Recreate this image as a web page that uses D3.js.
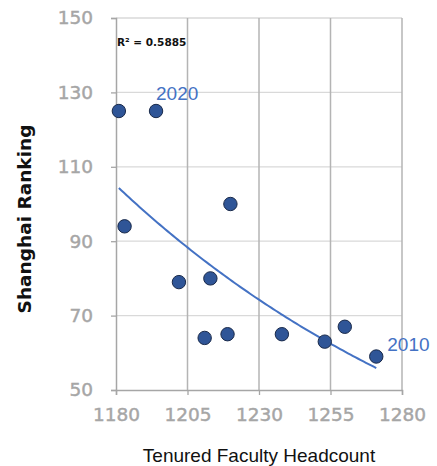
<!DOCTYPE html>
<html>
<head>
<meta charset="utf-8">
<script src="https://cdn.jsdelivr.net/npm/d3@7"></script>
<style>
  html, body { margin: 0; padding: 0; background: #fff; }
  svg { display: block; }
</style>
</head>
<body>
<svg id="chart" width="437" height="466"></svg>
<script>
// Tenured faculty headcount vs. Shanghai ranking, one point per year
const headcount = [1181, 1194, 1183, 1202, 1213, 1211, 1219, 1238, 1253, 1260, 1271, 1220];
const ranking   = [125, 125, 94, 79, 80, 64, 65, 65, 63, 67, 59, 100];
const yearLabels = [{ year: "2020", index: 1 }, { year: "2010", index: 10 }];
const xTicks = [1180, 1205, 1230, 1255, 1280];
const yTicks = [50, 70, 90, 110, 130, 150];
const rSquaredText = "R² = 0.5885";

(function () {
const svg = d3.select("#chart");
const plotLeft = 116, plotRight = 402, plotTop = 18, plotBottom = 390;

const x = d3.scaleLinear().domain([1180, 1280]).range([plotLeft, plotRight]);
const y = d3.scaleLinear().domain([50, 150]).range([plotBottom, plotTop]);

const tickFont = "'DejaVu Sans', sans-serif";
const tickGrey = "#a6a6a6";

// horizontal gridlines
svg.append("g").selectAll("line").data(yTicks.slice(1)).join("line")
  .attr("x1", plotLeft).attr("x2", plotRight)
  .attr("y1", d => y(d)).attr("y2", d => y(d))
  .attr("stroke", "#d9d9d9").attr("stroke-width", 1.3);

// vertical gridlines
svg.append("g").selectAll("line").data(xTicks.slice(1)).join("line")
  .attr("x1", d => x(d)).attr("x2", d => x(d))
  .attr("y1", plotTop).attr("y2", plotBottom)
  .attr("stroke", "#b4b4b4").attr("stroke-width", 1.5);

// y axis
const yAxis = svg.append("g").attr("transform", `translate(${plotLeft},0)`)
  .call(d3.axisLeft(y).tickValues(yTicks).tickSize(5).tickPadding(18));
yAxis.select(".domain").attr("stroke", tickGrey).attr("stroke-width", 1.5);
yAxis.selectAll(".tick line").attr("stroke", tickGrey).attr("stroke-width", 1.3);
yAxis.selectAll("text")
  .attr("fill", tickGrey).attr("stroke", tickGrey).attr("stroke-width", 0.45)
  .attr("font-family", tickFont).attr("font-size", 18.5);

// x axis
const xAxis = svg.append("g").attr("transform", `translate(0,${plotBottom})`)
  .call(d3.axisBottom(x).tickValues(xTicks).tickSize(5).tickPadding(13).tickFormat(d3.format("d")));
xAxis.select(".domain").attr("stroke", tickGrey).attr("stroke-width", 1.5);
xAxis.selectAll(".tick line").attr("stroke", tickGrey).attr("stroke-width", 1.3);
xAxis.selectAll("text")
  .attr("fill", tickGrey).attr("stroke", tickGrey).attr("stroke-width", 0.45)
  .attr("font-family", tickFont).attr("font-size", 18.5);

// exponential trendline fitted on ln(ranking)
const n = headcount.length;
const lx = headcount, ly = ranking.map(Math.log);
const mx = d3.mean(lx), my = d3.mean(ly);
let sxy = 0, sxx = 0;
for (let i = 0; i < n; i++) { sxy += (lx[i] - mx) * (ly[i] - my); sxx += (lx[i] - mx) ** 2; }
const b = sxy / sxx, a = Math.exp(my - b * mx);
const [xmin, xmax] = d3.extent(headcount);
const trend = d3.range(0, 101).map(i => {
  const xv = xmin + (xmax - xmin) * i / 100;
  return [xv, a * Math.exp(b * xv)];
});
svg.append("path").datum(trend)
  .attr("fill", "none").attr("stroke", "#4472c4").attr("stroke-width", 2)
  .attr("d", d3.line().x(d => x(d[0])).y(d => y(d[1])));

// points
svg.append("g").selectAll("circle").data(d3.range(n)).join("circle")
  .attr("cx", i => x(headcount[i])).attr("cy", i => y(ranking[i]))
  .attr("r", 6.7)
  .attr("fill", "#2f5597").attr("stroke", "#1a2a4a").attr("stroke-width", 1);

// year labels: the first sits above its point, the last to the upper right
const labelOffset = [[0, -11], [11, -6]];
svg.append("g").selectAll("text").data(yearLabels).join("text")
  .attr("x", (d, i) => x(headcount[d.index]) + labelOffset[i][0])
  .attr("y", (d, i) => y(ranking[d.index]) + labelOffset[i][1])
  .attr("font-family", "'Liberation Sans', Arial, sans-serif")
  .attr("font-size", 19).attr("fill", "#4472c4")
  .text(d => d.year);

// R² annotation
svg.append("text").attr("x", plotLeft + 1).attr("y", 46)
  .attr("font-family", tickFont).attr("font-size", 10.5).attr("font-weight", 600)
  .attr("fill", "#111").text(rSquaredText);

// axis titles
svg.append("text")
  .attr("transform", `translate(31,219) rotate(-90)`)
  .attr("text-anchor", "middle")
  .attr("font-family", tickFont).attr("font-size", 18.5).attr("font-weight", "bold")
  .attr("fill", "#111").text("Shanghai Ranking");

svg.append("text").attr("x", 259).attr("y", 461.5)
  .attr("text-anchor", "middle")
  .attr("font-family", "'Liberation Sans', Arial, sans-serif").attr("font-size", 19)
  .attr("fill", "#111").text("Tenured Faculty Headcount");
})();
</script>
</body>
</html>
